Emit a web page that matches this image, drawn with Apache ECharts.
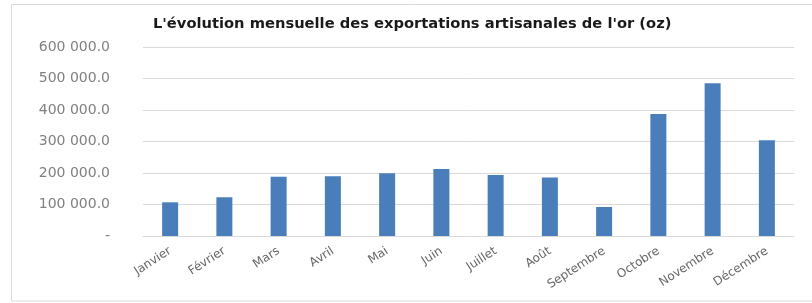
<!DOCTYPE html>
<html><head><meta charset="utf-8">
<script src="https://cdn.jsdelivr.net/npm/echarts@6/dist/echarts.min.js"></script>
<style>html,body{margin:0;padding:0;background:#fff}#c{width:812px;height:303px}</style>
</head><body><div id="c"></div>
<script>
var titleText = "L'évolution mensuelle des exportations artisanales de l'or (oz)";
var categories = ['Janvier','Février','Mars','Avril','Mai','Juin','Juillet','Août','Septembre','Octobre','Novembre','Décembre'];
var values = [107000,123000,188000,190000,199000,213000,194000,186000,92000,387000,485000,304000];
var yTicks = [0,100000,200000,300000,400000,500000,600000];

function fmt(v){
  if (v === 0) return '-';
  var s = String(Math.round(v));
  return s.replace(/\B(?=(\d{3})+(?!\d))/g,' ') + '.0';
}
var chart = echarts.init(document.getElementById('c'));
chart.setOption({
  animation:false,
  title:{text:titleText,left:148,top:12,textStyle:{fontFamily:'DejaVu Sans',fontWeight:'bold',fontSize:14.7,color:'#1a1a1a'}},
  graphic:[{type:'rect',shape:{x:11.5,y:4.5,width:812,height:296.5},style:{fill:null,stroke:'#d9d9d9',lineWidth:1}}],
  grid:{left:143,right:18,top:47,bottom:67},
  xAxis:{type:'category',data:categories,
    axisLine:{lineStyle:{color:'#d9d9d9'}},axisTick:{show:false},
    axisLabel:{rotate:33,interval:0,color:'#666666',fontFamily:'DejaVu Sans',fontSize:12,margin:14}},
  yAxis:{type:'value',min:yTicks[0],max:yTicks[yTicks.length-1],interval:100000,
    axisLine:{show:false},axisTick:{show:false},
    splitLine:{lineStyle:{color:'#d9d9d9'}},
    axisLabel:{formatter:fmt,color:'#808080',fontFamily:'DejaVu Sans',fontSize:14,margin:33}},
  series:[{type:'bar',data:values,barWidth:16,itemStyle:{color:'#4a7ebb'}}]
});
</script></body></html>
